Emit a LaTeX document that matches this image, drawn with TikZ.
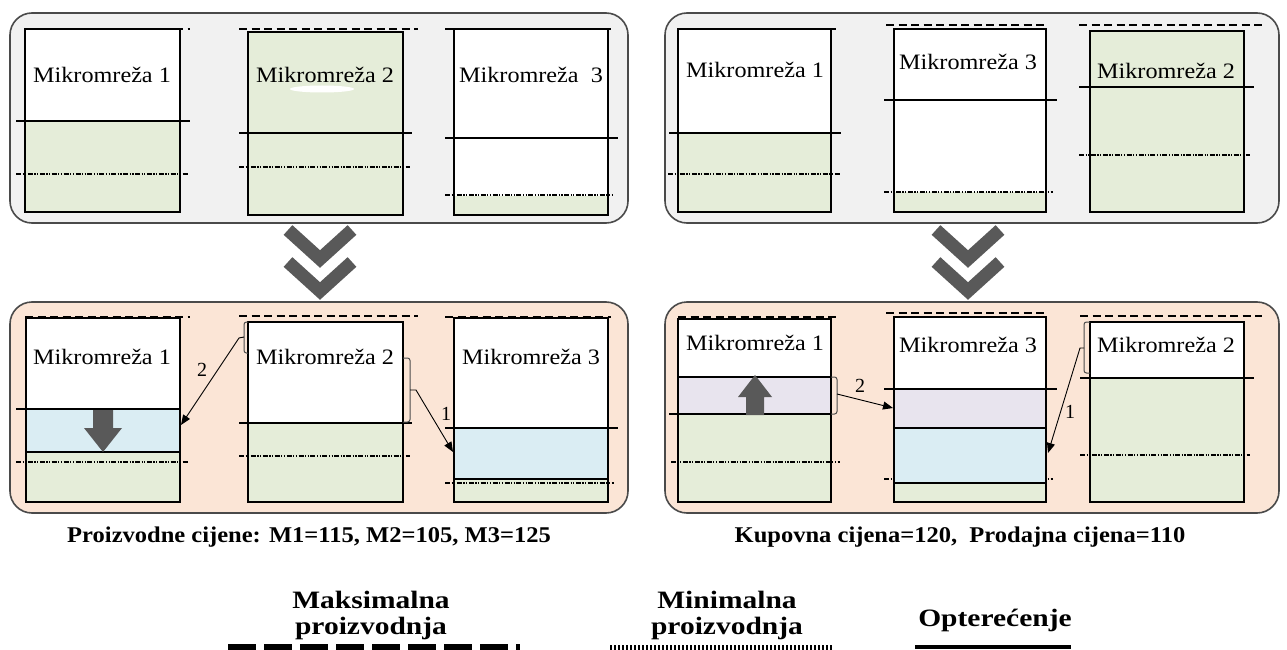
\documentclass[tikz,border=0pt]{standalone}
\usepackage{fontspec}
\usepackage{graphicx}
\setmainfont{Liberation Serif}
\usetikzlibrary{arrows.meta}
\definecolor{panelgray}{HTML}{F1F1F1}
\definecolor{peach}{HTML}{FBE5D6}
\definecolor{gfill}{HTML}{E5EDD9}
\definecolor{bfill}{HTML}{DAEDF3}
\definecolor{lfill}{HTML}{E8E4EE}
\definecolor{darkg}{HTML}{595959}
\definecolor{rimg}{HTML}{4A4A4A}
\newcommand\wideA[1]{\scalebox{1.1}[1]{#1}}
\newcommand\wideB[1]{\scalebox{1.09}[1]{#1}}
\newcommand\wideC[1]{\scalebox{1.18}[1]{#1}}
\begin{document}
\begin{tikzpicture}[x=1pt,y=-1pt,
 panelT/.style={draw=rimg,line width=1.6pt,fill=panelgray,rounded corners=22pt},
 panelB/.style={draw=rimg,line width=1.6pt,fill=peach,rounded corners=22pt},
 mbox/.style={draw=black,line width=1.3pt},
 maxln/.style={line width=1.6pt,dash pattern=on 8pt off 4.5pt},
 loadln/.style={line width=1.1pt},
 minln/.style={line width=1.1pt,dash pattern=on 5pt off 1.5pt on 1.2pt off 1.5pt on 1.2pt off 1.5pt},
 chevron/.style={draw=darkg,line width=13pt,line join=miter},
 barrow/.style={fill=darkg},
 flowarr/.style={-{Triangle[length=10pt,width=8pt]},line width=0.9pt},
 brk/.style={draw=black!70,line width=1pt,rounded corners=2.5pt},
 mlab/.style={inner sep=0pt,font=\fontsize{22}{24}\selectfont},
 numlab/.style={inner sep=0pt,font=\fontsize{20}{22}\selectfont},
 captxt/.style={inner sep=0pt,font=\bfseries\fontsize{22.5}{26}\selectfont},
 legtxt/.style={inner sep=0pt,align=center,font=\bfseries\fontsize{25}{26}\selectfont},
]
\useasboundingbox (0,0) rectangle (1287,650);
\fill[white] (0,0) rectangle (1287,650);

% ---------- panels ----------
\draw[panelT] (10,13) rectangle (628,223);
\draw[panelT] (665,13) rectangle (1279,223);
\draw[panelB] (10,302) rectangle (628,513);
\draw[panelB] (665,302) rectangle (1279,513);

% ---------- top-left ----------
\fill[white] (25,29) rectangle (180,121);
\fill[gfill] (25,121) rectangle (180,212);
\draw[loadln] (16,121) -- (190,121);
\draw[minln] (16,174) -- (189,174);
\draw[mbox] (25,29) rectangle (180,212);
\draw[maxln] (25,29) -- (190,29);
\node[mlab] (tla) at (102,75) {\wideA{Mikromreža 1}};

\fill[gfill] (248,32) rectangle (403,215);
\fill[white] (322,89) ellipse [x radius=32, y radius=3.5];
\draw[loadln] (239,133) -- (412,133);
\draw[minln] (239,167) -- (410,167);
\draw[mbox] (248,32) rectangle (403,215);
\draw[maxln] (239,29) -- (418,29);
\node[mlab] (tlb) at (325,75) {\wideA{Mikromreža 2}};

\fill[white] (454,29) rectangle (608,196);
\fill[gfill] (454,196) rectangle (608,215);
\draw[loadln] (445,138) -- (618,138);
\draw[minln,line width=1.6pt] (445,195) -- (613,195);
\draw[mbox] (454,29) rectangle (608,215);
\draw[maxln] (445,29) -- (611,29);
\node[mlab] (tlc) at (531,75) {\wideA{Mikromreža\ \ 3}};

% ---------- top-right ----------
\fill[white] (678,29) rectangle (831,133);
\fill[gfill] (678,133) rectangle (831,212);
\draw[loadln] (669,133) -- (841,133);
\draw[minln] (668,174) -- (840,174);
\draw[mbox] (678,29) rectangle (831,212);
\draw[maxln] (678,29) -- (840,29);
\node[mlab] (tra) at (755,70) {\wideA{Mikromreža 1}};

\fill[white] (894,29) rectangle (1046,192);
\fill[gfill] (894,192) rectangle (1046,212);
\draw[loadln] (884,100) -- (1057,100);
\draw[minln,line width=1.6pt] (884,192) -- (1053,192);
\draw[mbox] (894,29) rectangle (1046,212);
\draw[maxln] (886,25) -- (1048,25);
\node[mlab] (trb) at (968,62) {\wideA{Mikromreža 3}};

\fill[gfill] (1090,31) rectangle (1244,212);
\draw[loadln] (1079,87) -- (1254,87);
\draw[minln] (1079,155) -- (1250,155);
\draw[mbox] (1090,31) rectangle (1244,212);
\draw[maxln] (1079,25) -- (1262,25);
\node[mlab] (trc) at (1166,71) {\wideA{Mikromreža 2}};

% ---------- chevrons ----------
\draw[chevron] (288,230) -- (320,259) -- (352,230);
\draw[chevron] (288,262) -- (320,291) -- (352,262);
\draw[chevron] (936,230) -- (968,259) -- (1000,230);
\draw[chevron] (936,262) -- (968,291) -- (1000,262);

% ---------- bottom-left ----------
\fill[white] (26,318) rectangle (180,409);
\fill[bfill] (26,409) rectangle (180,452);
\fill[gfill] (26,452) rectangle (180,502);
\draw[loadln] (16,409) -- (180,409);
\draw[loadln] (26,452) -- (180,452);
\draw[minln] (16,462) -- (188,462);
\draw[mbox] (26,318) rectangle (180,502);
\draw[maxln] (25,317) -- (190,317);
\node[mlab] (bla) at (102,357) {\wideA{Mikromreža 1}};
\fill[barrow] (93,410) -- (113,410) -- (113,428) -- (122,428) -- (103,452) -- (84,428) -- (93,428) -- cycle;

\fill[white] (248,322) rectangle (403,423);
\fill[gfill] (248,423) rectangle (403,502);
\draw[loadln] (239,423) -- (412,423);
\draw[minln] (239,456) -- (410,456);
\draw[mbox] (248,322) rectangle (403,502);
\draw[maxln] (239,316) -- (418,316);
\node[mlab] (blb) at (325,357) {\wideA{Mikromreža 2}};

\fill[white] (454,318) rectangle (608,428);
\fill[bfill] (454,428) rectangle (608,479);
\fill[gfill] (454,479) rectangle (608,502);
\draw[loadln] (445,428) -- (618,428);
\draw[loadln] (454,479) -- (608,479);
\draw[minln] (445,483) -- (614,483);
\draw[mbox] (454,318) rectangle (608,502);
\draw[maxln] (445,317) -- (611,317);
\node[mlab] (blc) at (531,357) {\wideA{Mikromreža 3}};

\draw[brk] (248,322) -- (244,322) -- (244,353) -- (248,353);
\draw[brk] (403,358) -- (410,358) -- (410,422) -- (403,422);
\coordinate (blbl) at (244,337);
\coordinate (blat) at (181,425);
\coordinate (blbr) at (410,390);
\coordinate (blct) at (453,452);
\draw[flowarr] (blbl) -- ++(-5,1) -- (blat);
\draw[flowarr] (blbr) -- ++(6,0) -- (blct);
\node[numlab] (bln2) at (202,370) {2};
\node[numlab] (bln1) at (446,414) {1};

% ---------- bottom-right ----------
\fill[white] (678,319) rectangle (831,377);
\fill[lfill] (678,377) rectangle (831,414);
\fill[gfill] (678,414) rectangle (831,502);
\draw[loadln] (678,377) -- (831,377);
\draw[loadln] (669,414) -- (832,414);
\draw[minln] (671,462) -- (840,462);
\draw[mbox] (678,319) rectangle (831,502);
\draw[maxln] (678,317) -- (840,317);
\node[mlab] (bra) at (755,343) {\wideA{Mikromreža 1}};
\fill[barrow] (746,415) -- (746,397) -- (738,397) -- (755,375) -- (772,397) -- (764,397) -- (764,415) -- cycle;

\draw[minln] (884,479) -- (1053,479);
\fill[white] (894,317) rectangle (1046,389);
\fill[lfill] (894,389) rectangle (1046,428);
\fill[bfill] (894,428) rectangle (1046,483);
\fill[gfill] (894,483) rectangle (1046,502);
\draw[loadln] (884,389) -- (1057,389);
\draw[loadln] (894,428) -- (1046,428);
\draw[loadln] (894,483) -- (1046,483);
\draw[mbox] (894,317) rectangle (1046,502);
\draw[maxln] (886,313) -- (1048,313);
\node[mlab] (brb) at (968,345) {\wideA{Mikromreža 3}};

\fill[white] (1090,322) rectangle (1244,378);
\fill[gfill] (1090,378) rectangle (1244,502);
\draw[loadln] (1080,378) -- (1254,378);
\draw[minln] (1080,455) -- (1250,455);
\draw[mbox] (1090,322) rectangle (1244,502);
\draw[maxln] (1080,316) -- (1262,316);
\node[mlab] (brc) at (1166,345) {\wideA{Mikromreža 2}};

\draw[brk] (831,377) -- (837,377) -- (837,414) -- (831,414);
\draw[brk] (1090,322) -- (1084,322) -- (1084,373) -- (1090,373);
\coordinate (brar) at (837,394);
\coordinate (brbt) at (893,408);
\coordinate (brcl) at (1084,348);
\coordinate (brbr) at (1048,453);
\draw[flowarr] (brar) -- (brbt);
\draw[flowarr] (brcl) -- ++(-4,0) -- (brbr);
\node[numlab] (brn2) at (860,386) {2};
\node[numlab] (brn1) at (1070,412) {1};

% ---------- captions ----------
\node[captxt] (capl) at (309,537) {\wideB{Proizvodne cijene: M1=115, M2=105, M3=125}};
\node[captxt] (capr) at (960,537) {\wideB{Kupovna cijena=120,\ \ Prodajna cijena=110}};

% ---------- legend ----------
\node[legtxt] (lgmax) at (371,615) {\wideC{Maksimalna}\\\wideC{proizvodnja}};
\node[legtxt] (lgmin) at (727,615) {\wideC{Minimalna}\\\wideC{proizvodnja}};
\node[legtxt] (lgld) at (995,620) {\wideC{Opterećenje}};
\coordinate (lmaxa) at (228,648);
\coordinate (lmaxb) at (520,648);
\coordinate (lmina) at (610,648);
\coordinate (lminb) at (833,648);
\coordinate (llda) at (915,647);
\coordinate (lldb) at (1071,647);
\draw[line width=8pt,dash pattern=on 28pt off 8pt] (lmaxa) -- (lmaxb);
\draw[line width=7pt,dash pattern=on 2.2pt off 1.8pt] (lmina) -- (lminb);
\draw[line width=4pt] (llda) -- (lldb);
\end{tikzpicture}
\end{document}
